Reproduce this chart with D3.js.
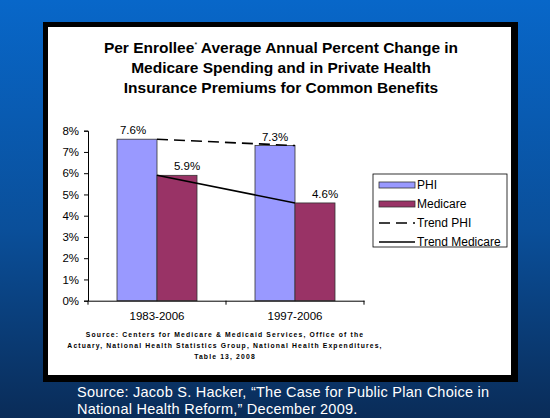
<!DOCTYPE html>
<html>
<head>
<meta charset="utf-8">
<script src="https://cdn.jsdelivr.net/npm/d3@7"></script>
<style>
  body { margin: 0; }
  svg { display: block; font-family: Arial, "Liberation Sans", sans-serif; }
</style>
</head>
<body>
<div id="chart"></div>
<script>
// chart data
const periods = ["1983-2006", "1997-2006"];
const series = ["PHI", "Medicare"];
const phi = [7.6, 7.3];
const medicare = [5.9, 4.6];
const yTicks = [0, 1, 2, 3, 4, 5, 6, 7, 8];
const titleLines = [
  "Per Enrollee* Average Annual Percent Change in",
  "Medicare Spending and in Private Health",
  "Insurance Premiums for Common Benefits"
];
const noteLines = [
  "Source: Centers for Medicare & Medicaid Services, Office of the",
  "Actuary, National Health Statistics Group, National Health Expenditures,",
  "Table 13, 2008"
];
const footLines = [
  "Source: Jacob S. Hacker, \u201cThe Case for Public Plan Choice in",
  "National Health Reform,\u201d December 2009."
];

const W = 550, H = 418;
const colors = { PHI: "#9999ff", Medicare: "#993366" };

const svg = d3.select("#chart").append("svg")
    .attr("width", W).attr("height", H);

// blue slide background
const grad = svg.append("defs").append("linearGradient")
    .attr("id", "bg").attr("x1", 0).attr("y1", 0).attr("x2", 0).attr("y2", 1);
grad.append("stop").attr("offset", "0%").attr("stop-color", "#0867c9");
grad.append("stop").attr("offset", "55%").attr("stop-color", "#0a4f9a");
grad.append("stop").attr("offset", "100%").attr("stop-color", "#0a2c58");
svg.append("rect").attr("width", W).attr("height", H).attr("fill", "url(#bg)");

// framed white panel
svg.append("rect").attr("x", 43).attr("y", 22).attr("width", 475).attr("height", 360)
    .attr("fill", "#000");
svg.append("rect").attr("x", 48).attr("y", 27).attr("width", 463).attr("height", 348)
    .attr("fill", "#fff");

// title
const title = svg.append("text").attr("text-anchor", "middle")
    .attr("font-size", 15.5).attr("font-weight", "bold").attr("fill", "#000");
titleLines.forEach((t, i) => {
  const tl = title.append("tspan").attr("x", 281).attr("y", 53 + i * 20);
  if (i === 0) {
    tl.text("Per Enrollee");
    tl.append("tspan").attr("font-size", 7).attr("font-weight", "normal").attr("dy", -6).text("*");
    tl.append("tspan").attr("dy", 6).text(" Average Annual Percent Change in");
  } else {
    tl.text(t);
  }
});

// plot area
const margin = { left: 88, top: 130.7, right: 364, bottom: 300.7 };
const g = svg.append("g");

const x = d3.scaleBand().domain(periods).range([margin.left, margin.right]);
const xInner = d3.scaleBand().domain(series).range([0, 80]);
const y = d3.scaleLinear().domain([0, 8]).range([margin.bottom, margin.top]);

const groupStart = d => x(d) + (x.bandwidth() - 80) / 2;

const rows = periods.map((p, i) => ({ period: p, PHI: phi[i], Medicare: medicare[i] }));

// bars
rows.forEach(r => {
  series.forEach(s => {
    g.append("rect")
      .attr("x", groupStart(r.period) + xInner(s))
      .attr("y", y(r[s]))
      .attr("width", xInner.bandwidth())
      .attr("height", y(0) - y(r[s]))
      .attr("fill", colors[s])
      .attr("stroke", "#333")
      .attr("stroke-width", 0.8);
  });
});

// value labels
const labelShift = { PHI: -4, Medicare: 10 };
rows.forEach((r, i) => {
  series.forEach(s => {
    g.append("text")
      .attr("x", groupStart(r.period) + xInner(s) + xInner.bandwidth() / 2 + (i === 1 && s === "PHI" ? 0 : labelShift[s]))
      .attr("y", y(r[s]) - 5)
      .attr("text-anchor", "middle")
      .attr("font-size", 11.5)
      .attr("fill", "#000")
      .text(r[s].toFixed(1) + "%");
  });
});

// trend lines
const trend = d3.line()
    .x(d => x(d.period) + x.bandwidth() / 2)
    .y(d => y(d.v));
g.append("path")
    .attr("d", trend(rows.map(r => ({ period: r.period, v: r.PHI }))))
    .attr("fill", "none").attr("stroke", "#000").attr("stroke-width", 1.6)
    .attr("stroke-dasharray", "11,6");
g.append("path")
    .attr("d", trend(rows.map(r => ({ period: r.period, v: r.Medicare }))))
    .attr("fill", "none").attr("stroke", "#000").attr("stroke-width", 1.6);

// axes
const yAxis = g.append("g")
    .attr("transform", `translate(${margin.left},0)`)
    .call(d3.axisLeft(y).tickValues(yTicks).tickSize(4).tickFormat(d => d + "%"));
yAxis.select(".domain").attr("stroke", "#000");
yAxis.selectAll("text").attr("font-size", 11.5).attr("fill", "#000")
    .attr("font-family", "Arial, 'Liberation Sans', sans-serif").attr("dx", -2);

const xAxis = g.append("g")
    .attr("transform", `translate(0,${margin.bottom})`)
    .call(d3.axisBottom(x).tickSize(4).tickSizeOuter(0));
xAxis.selectAll(".tick line").remove();
[margin.left, x(periods[1]), margin.right].forEach(px => {
  xAxis.append("line").attr("x1", px).attr("x2", px).attr("y1", 0).attr("y2", 4)
      .attr("stroke", "#000");
});
xAxis.selectAll("text").attr("font-size", 11.5).attr("fill", "#000")
    .attr("font-family", "Arial, 'Liberation Sans', sans-serif").attr("dy", "1.05em");

// legend
const leg = svg.append("g");
leg.append("rect").attr("x", 373).attr("y", 174).attr("width", 134).attr("height", 73)
    .attr("fill", "#fff").attr("stroke", "#000").attr("stroke-width", 0.8);
const legendItems = [
  { label: "PHI", type: "bar", color: colors.PHI },
  { label: "Medicare", type: "bar", color: colors.Medicare },
  { label: "Trend PHI", type: "dash" },
  { label: "Trend Medicare", type: "line" }
];
legendItems.forEach((it, i) => {
  const cy = 185 + i * 19;
  if (it.type === "bar") {
    leg.append("rect").attr("x", 379).attr("y", cy - 3).attr("width", 36).attr("height", 6)
        .attr("fill", it.color).attr("stroke", "#333").attr("stroke-width", 0.8);
  } else {
    leg.append("line").attr("x1", 379).attr("x2", 415).attr("y1", cy).attr("y2", cy)
        .attr("stroke", "#000").attr("stroke-width", 1.6)
        .attr("stroke-dasharray", it.type === "dash" ? "11,6" : null);
  }
  leg.append("text").attr("x", 417).attr("y", cy + 4).attr("font-size", 12)
      .attr("fill", "#000").text(it.label);
});

// data source note
noteLines.forEach((t, i) => {
  svg.append("text").attr("x", 225).attr("y", 337 + i * 11)
      .attr("text-anchor", "middle").attr("font-size", 6.8).attr("font-weight", "bold")
      .attr("letter-spacing", 1.15).attr("fill", "#000").text(t);
});

// slide footer
footLines.forEach((t, i) => {
  svg.append("text").attr("x", 77).attr("y", 397 + i * 16.5)
      .attr("font-size", 14.5).attr("letter-spacing", 0.25)
      .attr("fill", "#fff").text(t);
});
</script>
</body>
</html>
